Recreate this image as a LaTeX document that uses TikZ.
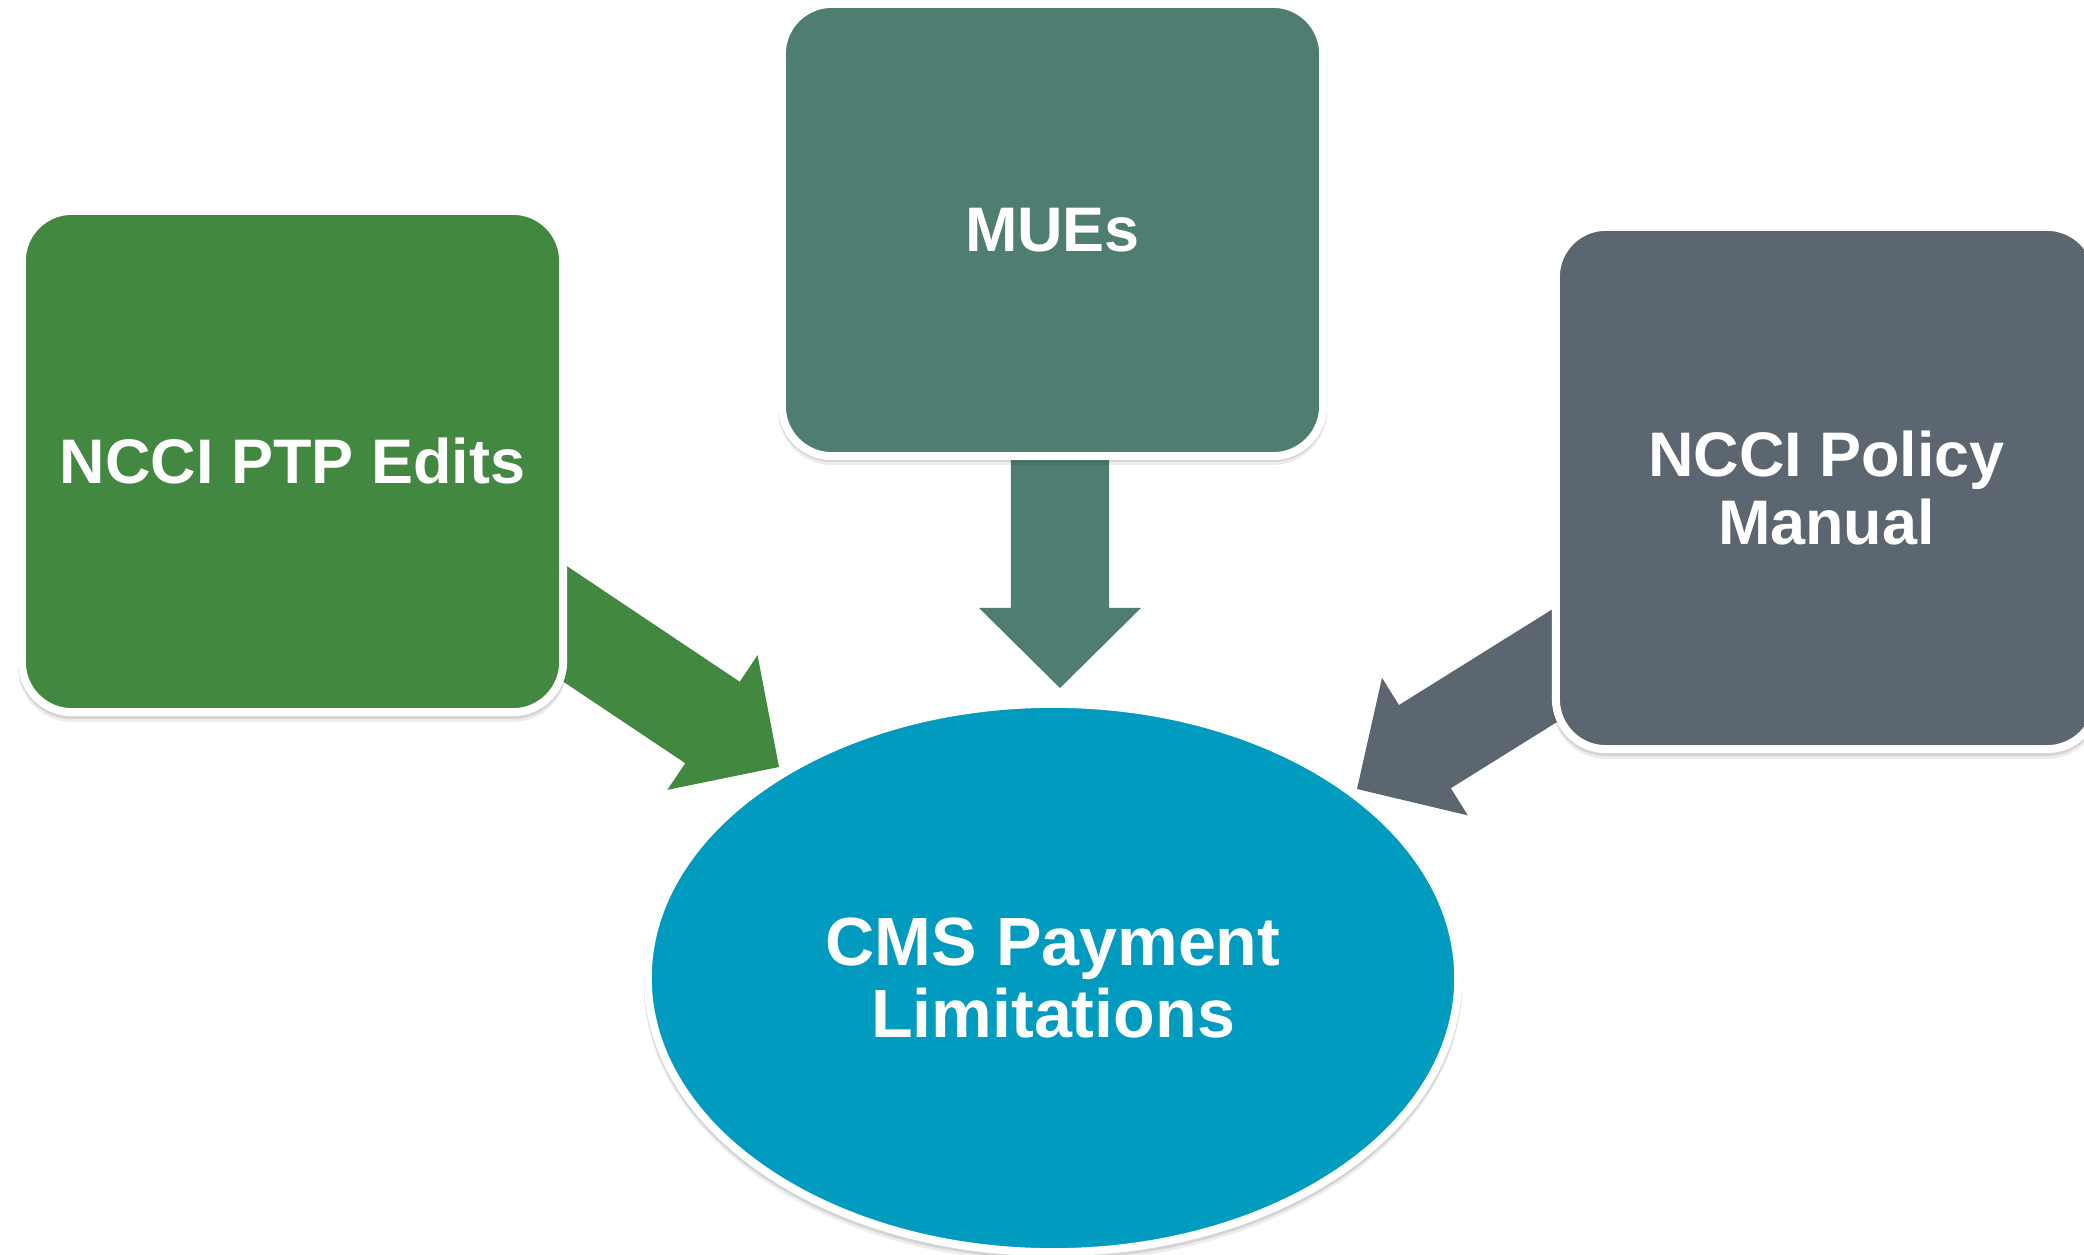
\documentclass[tikz,border=0pt]{standalone}
\usepackage{fontspec}
\setmainfont{Liberation Sans}
\usetikzlibrary{calc,shapes.geometric}
\definecolor{cgreen}{RGB}{66,136,64}
\definecolor{cteal}{RGB}{79,125,114}
\definecolor{cslate}{RGB}{92,102,112}
\definecolor{cblue}{RGB}{2,155,192}
\newcommand\boxfont{\bfseries\fontsize{17.9pt}{19.1pt}\selectfont}
\newcommand\ellfont{\bfseries\fontsize{19.4pt}{20.5pt}\selectfont}
% block arrow: #1 name, #2 colour, #3 tail coordinate, #4 tip coordinate
\newcommand\blockarr[4]{%
  \path ($(#4)!0.8cm!(#3)$) coordinate (#1b);
  \fill[#2] ($(#3)!0.49cm!90:(#4)$) -- ($(#1b)!0.49cm!90:(#4)$)
    -- ($(#1b)!0.81cm!90:(#4)$) -- (#4) -- ($(#1b)!0.81cm!-90:(#4)$)
    -- ($(#1b)!0.49cm!-90:(#4)$) -- ($(#3)!0.49cm!-90:(#4)$) -- cycle;}
\pgfdeclarelayer{back}
\pgfdeclarelayer{paper}
\pgfsetlayers{paper,back,main}
\begin{document}
\begin{tikzpicture}[x=0.01cm,y=-0.01cm,
  box/.style={rectangle, rounded corners=0.5cm, draw=white, line width=0.08cm,
    inner sep=0pt, minimum width=5.41cm, text=white, font=\boxfont, align=center},
  ell/.style={ellipse, draw=white, line width=0.08cm, inner sep=0pt,
    minimum width=8.10cm, minimum height=5.48cm, text=white, font=\ellfont, align=center},
  shadeA/.style={fill=black, opacity=0.10},
  shadeB/.style={fill=black, opacity=0.07}]
\useasboundingbox (0,0) rectangle (2084,1255);
\clip (0,0) rectangle (2084,1255);
\begin{pgfonlayer}{paper}
\fill[white] (0,0) rectangle (2084,1255);
\end{pgfonlayer}

% shadows
\fill[shadeA, rounded corners=0.54cm] (18,210) rectangle (567,719);
\fill[shadeB, rounded corners=0.54cm] (18,213) rectangle (567,722);
\fill[shadeA, rounded corners=0.54cm] (778,3) rectangle (1327,462);
\fill[shadeB, rounded corners=0.54cm] (778,6) rectangle (1327,465);
\fill[shadeA, rounded corners=0.54cm] (1552,226) rectangle (2101,756);
\fill[shadeB, rounded corners=0.54cm] (1552,229) rectangle (2101,759);
\fill[shadeA] (1053,981) ellipse [x radius=4.09cm, y radius=2.78cm];
\fill[shadeB] (1053,984) ellipse [x radius=4.09cm, y radius=2.78cm];

% nodes
\node[box, fill=cgreen, minimum height=5.01cm] (ptp) at (292.5,461.5) {NCCI PTP Edits};
\node[box, fill=cteal, minimum height=4.52cm] (mue) at (1052.5,230) {MUEs};
\node[box, fill=cslate, minimum height=5.22cm] (pol) at (1826.5,488) {NCCI Policy\\Manual};
\node[ell, fill=cblue] (cms) at (1053,978) {CMS Payment\\Limitations};

% arrow ends
\coordinate (gTail) at ([yshift=0.2cm]ptp.center);
\coordinate (gTip) at (779,767);
\coordinate (mTip) at (1060,688);
\coordinate (mTail) at (mTip |- mue.center);
\coordinate (pTail) at ([yshift=-0.08cm]pol.center);
\coordinate (pTip) at (1357,789);

\begin{pgfonlayer}{back}
\blockarr{ga}{cgreen}{gTail}{gTip}
\blockarr{ma}{cteal}{mTail}{mTip}
\blockarr{pa}{cslate}{pTail}{pTip}
\end{pgfonlayer}
\end{tikzpicture}
\end{document}
